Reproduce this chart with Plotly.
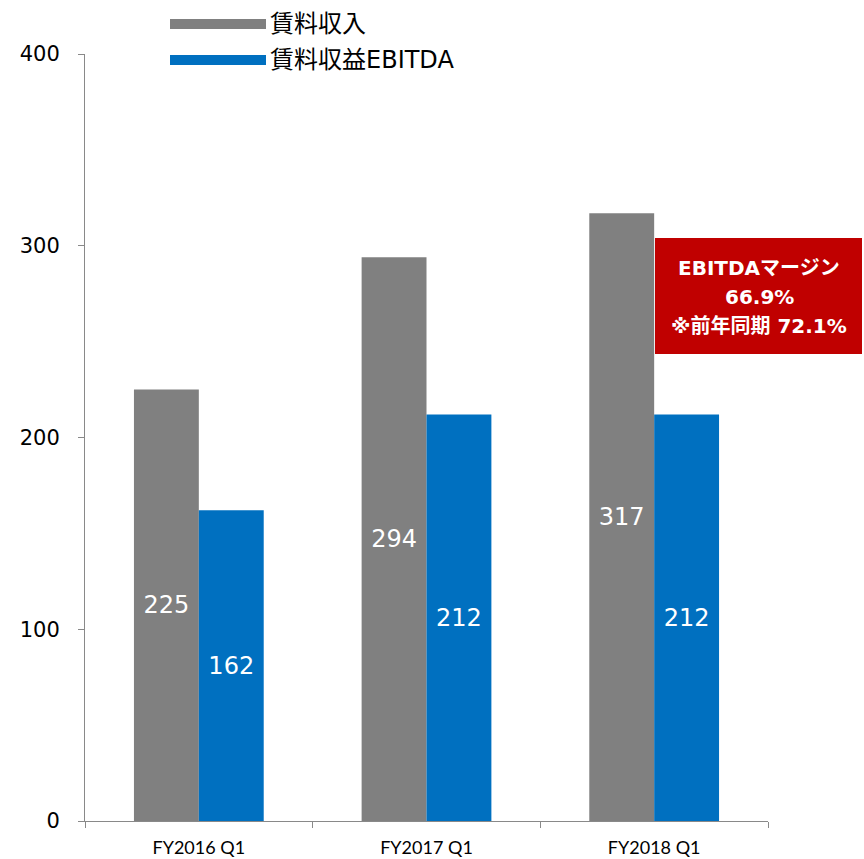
import plotly.graph_objects as go

# Quarterly figures
categories = ["FY2016 Q1", "FY2017 Q1", "FY2018 Q1"]
rent_income = [225, 294, 317]
rent_ebitda = [162, 212, 212]
series_names = ["賃料収入", "賃料収益EBITDA"]
series_colors = ["#808080", "#0070C0"]
y_ticks = [0, 100, 200, 300, 400]
margin_note = ["EBITDAマージン", "66.9%", "※前年同期 72.1%"]

PLOT_L, PLOT_R, PLOT_T, PLOT_B = 85, 96, 54, 38
W, H = 864, 859
PW, PH = W - PLOT_L - PLOT_R, H - PLOT_T - PLOT_B


def px_x(x):
    return (x - PLOT_L) / PW


def px_y(y):
    return 1 - (y - PLOT_T) / PH


fig = go.Figure()
for name, vals, color in zip(series_names, [rent_income, rent_ebitda], series_colors):
    fig.add_trace(go.Bar(
        x=categories, y=vals, name=name,
        marker=dict(color=color, line=dict(width=0)),
        text=[str(v) for v in vals],
        textposition="inside", insidetextanchor="middle",
        textfont=dict(family="DejaVu Sans", size=24, color="white"),
        showlegend=False,
    ))

axis_color = "#898989"
fig.update_layout(
    width=W, height=H,
    margin=dict(l=PLOT_L, r=PLOT_R, t=PLOT_T, b=PLOT_B),
    paper_bgcolor="white", plot_bgcolor="white",
    barmode="group", bargap=0.43, bargroupgap=0,
    xaxis=dict(
        automargin=False,
        showline=True, linecolor=axis_color, linewidth=1,
        ticks="outside", tickson="boundaries", ticklen=6, tickcolor=axis_color,
        ticklabelstandoff=10,
        tickfont=dict(family="Lato, sans-serif", size=18, color="black"),
        showgrid=False, zeroline=False,
    ),
    yaxis=dict(
        automargin=False,
        range=[0, 400], tickvals=y_ticks,
        showline=True, linecolor=axis_color, linewidth=1,
        ticks="outside", ticklen=6, tickcolor=axis_color,
        ticklabelstandoff=14,
        tickfont=dict(family="DejaVu Sans", size=21, color="black"),
        showgrid=False, zeroline=False,
    ),
    showlegend=False,
)

# Legend: line samples with labels, placed above the plot
legend_rows = [(24, series_names[0], series_colors[0]), (60, series_names[1], series_colors[1])]
for ypx, label, color in legend_rows:
    yp = px_y(ypx)
    fig.add_shape(type="line", xref="paper", yref="paper",
                  x0=px_x(170), x1=px_x(266), y0=yp, y1=yp,
                  line=dict(color=color, width=10))
    fig.add_annotation(xref="paper", yref="paper", x=px_x(268), y=yp,
                       xanchor="left", yanchor="middle",
                       text=label, showarrow=False,
                       font=dict(family="DejaVu Sans, Noto Sans CJK JP", size=24, color="black"))

# EBITDA margin call-out box
fig.add_shape(type="rect", xref="paper", yref="paper",
              x0=px_x(655), x1=px_x(862), y0=px_y(354), y1=px_y(238),
              fillcolor="#C00000", line=dict(width=0), layer="above")
for i, line in enumerate(margin_note):
    fig.add_annotation(xref="paper", yref="paper", x=px_x(759), y=px_y(268 + 29 * i),
                       xanchor="center", yanchor="middle",
                       text="<b>" + line + "</b>", showarrow=False,
                       font=dict(family="DejaVu Sans, Noto Sans CJK JP", size=20, color="white"))

fig.write_html("out.html")
